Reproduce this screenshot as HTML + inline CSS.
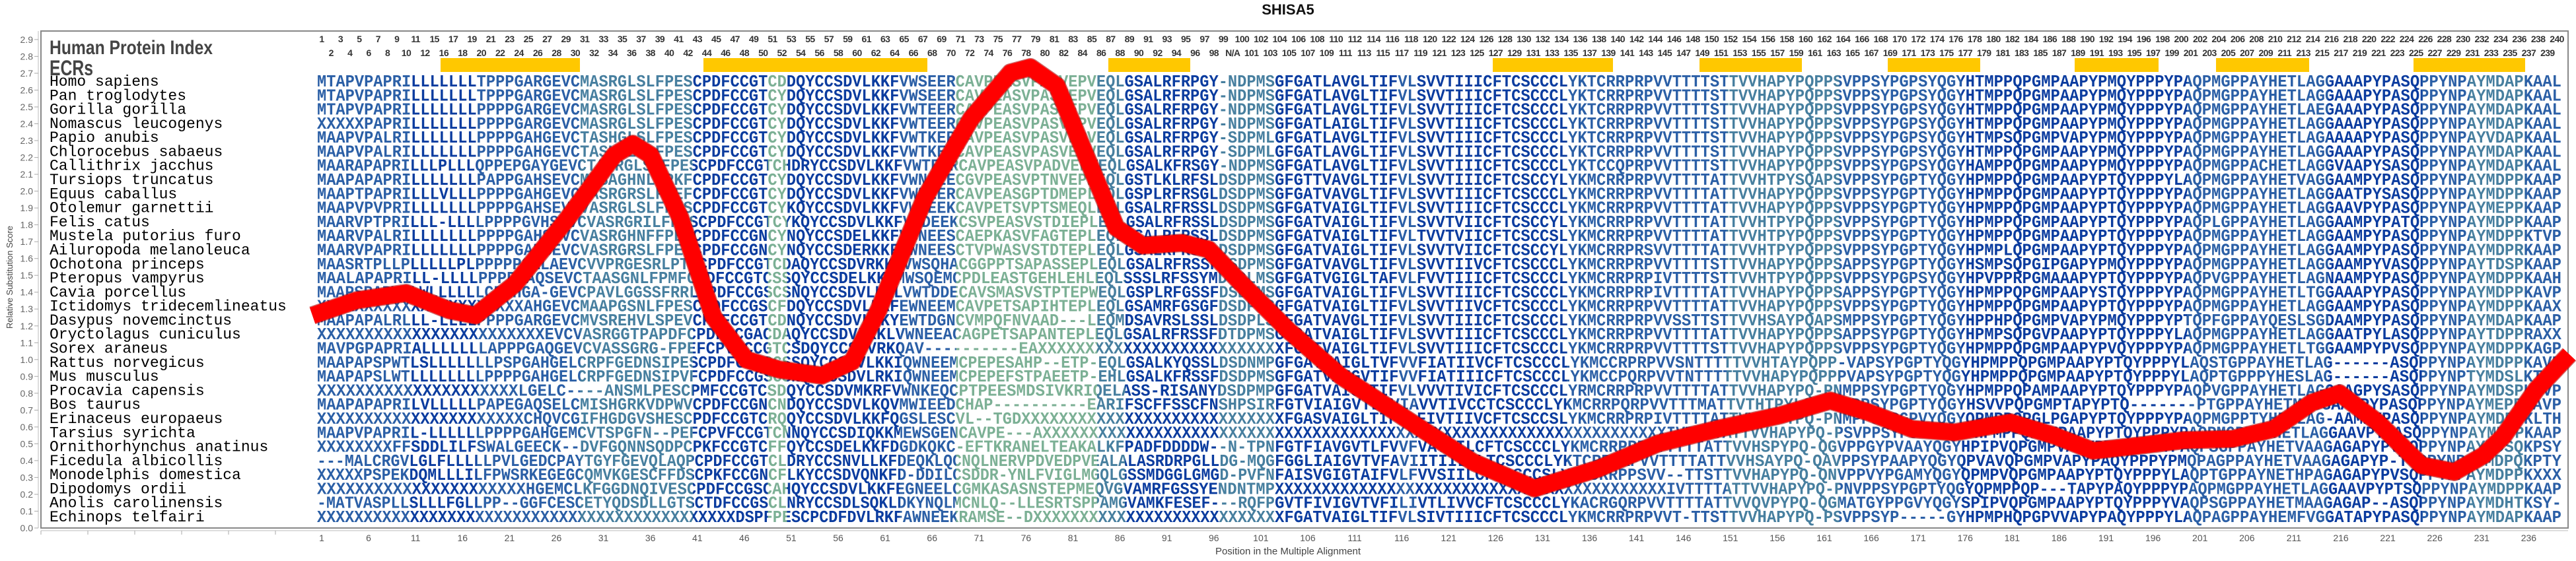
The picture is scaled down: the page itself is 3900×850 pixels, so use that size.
<!DOCTYPE html>
<html><head><meta charset="utf-8">
<style>
html,body{margin:0;padding:0;background:#fff;}
#wrap{position:relative;width:3900px;height:850px;overflow:hidden;background:#fff;}
svg{position:absolute;left:0;top:0;}
.row{position:absolute;display:flex;font-family:"Liberation Sans",sans-serif;font-weight:bold;color:#333;white-space:nowrap;}
.row i{font-style:normal;display:block;text-align:center;flex:none;}
#top i,#bot i{width:28.44px;font-size:14px;letter-spacing:-0.6px;}
#xt{font-weight:normal;color:#555;}
#xt i{width:71.1px;font-size:14px;}
</style></head><body><div id="wrap">
<svg width="3900" height="850" viewBox="0 0 3900 850" xmlns="http://www.w3.org/2000/svg">
<defs>
<linearGradient id="g" gradientUnits="userSpaceOnUse" x1="480" y1="0" x2="3880" y2="0">
<stop offset="0" stop-color="#2b5fa6"/><stop offset=".0418" stop-color="#2b5fa6"/>
<stop offset=".0418" stop-color="#0b3c9f"/><stop offset=".0711" stop-color="#0b3c9f"/>
<stop offset=".0711" stop-color="#2b5fa6"/><stop offset=".1172" stop-color="#2b5fa6"/>
<stop offset=".1172" stop-color="#477f9f"/><stop offset=".1674" stop-color="#477f9f"/>
<stop offset=".1674" stop-color="#0b3c9f"/><stop offset=".2008" stop-color="#0b3c9f"/>
<stop offset=".2008" stop-color="#7cb095"/><stop offset=".2092" stop-color="#7cb095"/>
<stop offset=".2092" stop-color="#0b3c9f"/><stop offset=".2594" stop-color="#0b3c9f"/>
<stop offset=".2594" stop-color="#2b5fa6"/><stop offset=".2845" stop-color="#2b5fa6"/>
<stop offset=".2845" stop-color="#7cb095"/><stop offset=".3473" stop-color="#7cb095"/>
<stop offset=".3473" stop-color="#477f9f"/><stop offset=".3598" stop-color="#477f9f"/>
<stop offset=".3598" stop-color="#0b3c9f"/><stop offset=".4017" stop-color="#0b3c9f"/>
<stop offset=".4017" stop-color="#477f9f"/><stop offset=".4268" stop-color="#477f9f"/>
<stop offset=".4268" stop-color="#0b3c9f"/><stop offset=".4812" stop-color="#0b3c9f"/>
<stop offset=".4812" stop-color="#2b5fa6"/><stop offset=".4895" stop-color="#2b5fa6"/>
<stop offset=".4895" stop-color="#0b3c9f"/><stop offset=".5565" stop-color="#0b3c9f"/>
<stop offset=".5565" stop-color="#2b5fa6"/><stop offset=".6276" stop-color="#2b5fa6"/>
<stop offset=".6276" stop-color="#477f9f"/><stop offset=".6778" stop-color="#477f9f"/>
<stop offset=".6778" stop-color="#2b5fa6"/><stop offset=".7322" stop-color="#2b5fa6"/>
<stop offset=".7322" stop-color="#0b3c9f"/><stop offset=".8326" stop-color="#0b3c9f"/>
<stop offset=".8326" stop-color="#2b5fa6"/><stop offset=".8954" stop-color="#2b5fa6"/>
<stop offset=".8954" stop-color="#0b3c9f"/><stop offset=".9372" stop-color="#0b3c9f"/>
<stop offset=".9372" stop-color="#2b5fa6"/><stop offset=".9582" stop-color="#2b5fa6"/>
<stop offset=".9582" stop-color="#477f9f"/><stop offset=".9833" stop-color="#477f9f"/>
<stop offset=".9833" stop-color="#2b5fa6"/><stop offset="1" stop-color="#2b5fa6"/>
</linearGradient>
</defs>
<text x="1950" y="22" text-anchor="middle" font-family="Liberation Sans,sans-serif" font-weight="bold" font-size="22" fill="#111">SHISA5</text>
<rect x="62" y="47" width="3826" height="753" fill="none" stroke="#888" stroke-width="2"/>
<line x1="58" y1="47" x2="58" y2="800" stroke="#bbb" stroke-width="1"/>
<line x1="62" y1="804" x2="3888" y2="804" stroke="#bbb" stroke-width="1"/>
<g stroke="#aaa" stroke-width="1">
<line x1="52" y1="800" x2="58" y2="800"/><line x1="52" y1="774.5" x2="58" y2="774.5"/><line x1="52" y1="749" x2="58" y2="749"/><line x1="52" y1="723.4" x2="58" y2="723.4"/><line x1="52" y1="697.9" x2="58" y2="697.9"/><line x1="52" y1="672.4" x2="58" y2="672.4"/><line x1="52" y1="646.9" x2="58" y2="646.9"/><line x1="52" y1="621.4" x2="58" y2="621.4"/><line x1="52" y1="595.8" x2="58" y2="595.8"/><line x1="52" y1="570.3" x2="58" y2="570.3"/><line x1="52" y1="544.8" x2="58" y2="544.8"/><line x1="52" y1="519.3" x2="58" y2="519.3"/><line x1="52" y1="493.8" x2="58" y2="493.8"/><line x1="52" y1="468.2" x2="58" y2="468.2"/><line x1="52" y1="442.7" x2="58" y2="442.7"/><line x1="52" y1="417.2" x2="58" y2="417.2"/><line x1="52" y1="391.7" x2="58" y2="391.7"/><line x1="52" y1="366.2" x2="58" y2="366.2"/><line x1="52" y1="340.6" x2="58" y2="340.6"/><line x1="52" y1="315.1" x2="58" y2="315.1"/><line x1="52" y1="289.6" x2="58" y2="289.6"/><line x1="52" y1="264.1" x2="58" y2="264.1"/><line x1="52" y1="238.6" x2="58" y2="238.6"/><line x1="52" y1="213" x2="58" y2="213"/><line x1="52" y1="187.5" x2="58" y2="187.5"/><line x1="52" y1="162" x2="58" y2="162"/><line x1="52" y1="136.5" x2="58" y2="136.5"/><line x1="52" y1="111" x2="58" y2="111"/><line x1="52" y1="85.4" x2="58" y2="85.4"/><line x1="52" y1="59.9" x2="58" y2="59.9"/>
</g>
<g stroke="#aaa" stroke-width="1">
<line x1="62" y1="804" x2="62" y2="810"/><line x1="133" y1="804" x2="133" y2="810"/><line x1="204" y1="804" x2="204" y2="810"/><line x1="275" y1="804" x2="275" y2="810"/><line x1="346" y1="804" x2="346" y2="810"/><line x1="417" y1="804" x2="417" y2="810"/>
</g>
<g font-family="Liberation Sans,sans-serif" font-size="14" fill="#666" text-anchor="end">
<text x="50" y="805">0.0</text><text x="50" y="779.5">0.1</text><text x="50" y="754">0.2</text><text x="50" y="728.4">0.3</text><text x="50" y="702.9">0.4</text><text x="50" y="677.4">0.5</text><text x="50" y="651.9">0.6</text><text x="50" y="626.4">0.7</text><text x="50" y="600.8">0.8</text><text x="50" y="575.3">0.9</text><text x="50" y="549.8">1.0</text><text x="50" y="524.3">1.1</text><text x="50" y="498.8">1.2</text><text x="50" y="473.2">1.3</text><text x="50" y="447.7">1.4</text><text x="50" y="422.2">1.5</text><text x="50" y="396.7">1.6</text><text x="50" y="371.2">1.7</text><text x="50" y="345.6">1.8</text><text x="50" y="320.1">1.9</text><text x="50" y="294.6">2.0</text><text x="50" y="269.1">2.1</text><text x="50" y="243.6">2.2</text><text x="50" y="218">2.3</text><text x="50" y="192.5">2.4</text><text x="50" y="167">2.5</text><text x="50" y="141.5">2.6</text><text x="50" y="116">2.7</text><text x="50" y="90.4">2.8</text><text x="50" y="64.9">2.9</text>
</g>
<text transform="translate(19,420) rotate(-90)" text-anchor="middle" font-family="Liberation Sans,sans-serif" font-size="13" fill="#444">Relative Substitution Score</text>
<text x="1950" y="840" text-anchor="middle" font-family="Liberation Sans,sans-serif" font-size="15" fill="#444">Position in the Multiple Alignment</text>
<text x="75" y="82" font-family="Liberation Sans,sans-serif" font-weight="bold" font-size="30" fill="#444" textLength="247" lengthAdjust="spacingAndGlyphs">Human Protein Index</text>
<text x="75" y="114" font-family="Liberation Sans,sans-serif" font-weight="bold" font-size="32" fill="#444" textLength="66" lengthAdjust="spacingAndGlyphs">ECRs</text>
<g fill="#FFC800">
<rect x="667" y="88" width="211" height="21"/><rect x="1065" y="88" width="339" height="21"/><rect x="1678" y="88" width="124" height="21"/><rect x="2260" y="88" width="182" height="21"/><rect x="2573" y="88" width="155" height="21"/><rect x="2858" y="88" width="140" height="21"/><rect x="3141" y="88" width="127" height="21"/><rect x="3355" y="88" width="141" height="21"/><rect x="3654" y="88" width="169" height="21"/>
</g>
<g font-family="Liberation Mono,monospace" font-size="23" fill="#000">
<text x="75" y="130">Homo sapiens</text>
<text x="75" y="151.3">Pan troglodytes</text>
<text x="75" y="172.6">Gorilla gorilla</text>
<text x="75" y="193.9">Nomascus leucogenys</text>
<text x="75" y="215.2">Papio anubis</text>
<text x="75" y="236.5">Chlorocebus sabaeus</text>
<text x="75" y="257.7">Callithrix jacchus</text>
<text x="75" y="279">Tursiops truncatus</text>
<text x="75" y="300.3">Equus caballus</text>
<text x="75" y="321.6">Otolemur garnettii</text>
<text x="75" y="342.9">Felis catus</text>
<text x="75" y="364.2">Mustela putorius furo</text>
<text x="75" y="385.5">Ailuropoda melanoleuca</text>
<text x="75" y="406.8">Ochotona princeps</text>
<text x="75" y="428.1">Pteropus vampyrus</text>
<text x="75" y="449.4">Cavia porcellus</text>
<text x="75" y="470.6">Ictidomys tridecemlineatus</text>
<text x="75" y="491.9">Dasypus novemcinctus</text>
<text x="75" y="513.2">Oryctolagus cuniculus</text>
<text x="75" y="534.5">Sorex araneus</text>
<text x="75" y="555.8">Rattus norvegicus</text>
<text x="75" y="577.1">Mus musculus</text>
<text x="75" y="598.4">Procavia capensis</text>
<text x="75" y="619.7">Bos taurus</text>
<text x="75" y="641">Erinaceus europaeus</text>
<text x="75" y="662.3">Tarsius syrichta</text>
<text x="75" y="683.5">Ornithorhynchus anatinus</text>
<text x="75" y="704.8">Ficedula albicollis</text>
<text x="75" y="726.1">Monodelphis domestica</text>
<text x="75" y="747.4">Dipodomys ordii</text>
<text x="75" y="768.7">Anolis carolinensis</text>
<text x="75" y="790">Echinops telfairi</text>
</g>
<g font-family="Liberation Mono,monospace" font-weight="bold" font-size="26" fill="url(#g)" lengthAdjust="spacingAndGlyphs">
<text x="480" y="131" textLength="1450" lengthAdjust="spacingAndGlyphs">MTAPVPAPRILLLLLLLTPPPGARGEVCMASRGLSLFPESCPDFCCGTCDDQYCCSDVLKKFVWSEERCAVPEASVPASVEPVEQLGSALRFRPGY-NDPMS</text>
<text x="1930" y="131" textLength="1948" lengthAdjust="spacingAndGlyphs">GFGATLAVGLTIFVLSVVTIIICFTCSCCCLYKTCRRPRPVVTTTTSTTVVHAPYPQPPSVPPSYPGPSYQGYHTMPPQPGMPAAPYPMQYPPPYPAQPMGPPAYHETLAGGAAAPYPASQPPYNPAYMDAPKAAL</text>
<text x="480" y="152.3" textLength="1450" lengthAdjust="spacingAndGlyphs">MTAPVPAPRILLLLLLLTPPPGARGEVCMASRGLSLFPESCPDFCCGTCYDQYCCSDVLKKFVWSEERCAVPEASVPASVEPVEQLGSALRFRPGY-NDPMS</text>
<text x="1930" y="152.3" textLength="1948" lengthAdjust="spacingAndGlyphs">GFGATLAVGLTIFVLSVVTIIICFTCSCCCLYKTCRRPRPVVTTTTSTTVVHAPYPQPPSVPPSYPGPSYQGYHTMPPQPGMPAAPYPMQYPPPYPAQPMGPPAYHETLAGGAAAPYPASQPPYNPAYMDAPKAAL</text>
<text x="480" y="173.6" textLength="1450" lengthAdjust="spacingAndGlyphs">MTAPVPAPRILLLLLLLPPPPGARGEVCMASRGLSLFPESCPDFCCGTCYDQYCCSDVLKKFVWTEERCAVPEASVPASVEPVEQLGSALRFRPGY-NDPMS</text>
<text x="1930" y="173.6" textLength="1948" lengthAdjust="spacingAndGlyphs">GFGATLAVGLTIFVLSVVTIIICFTCSCCCLYKTCRRPRPVVTTTTSTTVVHAPYPQPPSVPPSYPGPSYQGYHTMPPQPGMPAAPYPMQYPPPYPAQPMGPPAYHETLAEGAAAPYPASQPPYNPAYMDAPKAAL</text>
<text x="480" y="194.9" textLength="1450" lengthAdjust="spacingAndGlyphs">XXXXXPAPRILLLLLLLPPPPGARGEVCMASRGLSLFPESCPDFCCGTCYDQYCCSDVLKKFVWTEERCAVPEASVPASVEPVEQLGSALRFRPGY-NDPMS</text>
<text x="1930" y="194.9" textLength="1948" lengthAdjust="spacingAndGlyphs">GFGATLAIGLTIFVLSVVTIIICFTCSCCCLYKTCRRPRPVVTTTTSTTVVHAPYPQPPSVPPSYPGPSYQGYHTMPPQPGMPAAPYPMQYPPPYPAQPMGPPAYHETLAGGAAAPYPASQPPYNPAYMDAPKAAL</text>
<text x="480" y="216.2" textLength="1450" lengthAdjust="spacingAndGlyphs">MAAPVPALRILLLLLLLPPPPGAHGEVCTASHGLSLFPESCPDFCCGTCYDQYCCSDVLKKFVWTKERCAVPEASVPASVEPVEQLGSALRFRPGY-SDPML</text>
<text x="1930" y="216.2" textLength="1948" lengthAdjust="spacingAndGlyphs">GFGATLAVGLTIFVLSVVTIIICFTCSCCCLYKTCRRPRPVVTTTTSTTVVHAPYPQPPSVPPSYPGPSYQGYHTMPSQPGMPVAPYPMQYPPPYPAQPMGPPAYHETLAGAAAAPYPASQPPYNPAYVDAPKAAL</text>
<text x="480" y="237.5" textLength="1450" lengthAdjust="spacingAndGlyphs">MAAPVPALRILLLLLLLPPPPGAHGEVCTASHGLSLFPESCPDFCCGTCYDQYCCSDVLKKFVWTKERCAVPEASVPASVEPVEQLGSALRFRPGY-SDPML</text>
<text x="1930" y="237.5" textLength="1948" lengthAdjust="spacingAndGlyphs">GFGATLAVGLTIFVLSVVTIIICFTCSCCCLYKTCRRPRPVVTTTTSTTVVHAPYPQPPSVPPSYPGPSYQGYHTMPPQPGMPAAPYPMQYPPPYPAQPMGPPAYHETLAGGAAAPYPASQPPYNPAYMDAPKAAL</text>
<text x="480" y="258.7" textLength="1450" lengthAdjust="spacingAndGlyphs">MAARAPAPRILLLPLLLQPPEPGAYGEVCTASRGLSLFPESCPDFCCGTCHDRYCCSDVLKKFVWTEERCAVPEASVPADVEPVEQLGSALKFRSGY-NDPMS</text>
<text x="1930" y="258.7" textLength="1948" lengthAdjust="spacingAndGlyphs">GFGATLAVGLTIFVLSVVTIIICFTCSCCCLYKTCCQPRPVVTTTTSTTVVHAPYPQPPSVPPSYPGPSYQGYHAMPPQPGMPAAPYPMQYPPPYPAQPMGPPACHETLAGGVAAPYSASQPPYNPAYMDAPKAAL</text>
<text x="480" y="280" textLength="1450" lengthAdjust="spacingAndGlyphs">MAAPAPAPRILLLLLLLPAPPGAHSEVCMVSAGHNLFPKFCPDFCCGTCYDQYCCSDVLKKFVWNGEECGVPEASVPTNVEPPEQLGSTLKLRFSLDSDPMS</text>
<text x="1930" y="280" textLength="1948" lengthAdjust="spacingAndGlyphs">GFGTTVAVGLTIFVLSVVTIIICFTCSCCYLYKMCRRPRPVVTTTTATTVVHTPYSQAPSVPPSYPGPTYQGYHPMPPQPGMPAAPYPTQYPPPYLAQPMGPPAYHETVAGGAAMPYPASQPPYNPAYMDPPKAAP</text>
<text x="480" y="301.3" textLength="1450" lengthAdjust="spacingAndGlyphs">MAAPTPAPRILLLVLLLPPPPGAHGEVCTASRGRSLFPEFCPDFCCGTCYDQYCCSDVLKKFVWNEERCAVPEASGPTDMEPLEQLGSPLRFRSGLDSDPMS</text>
<text x="1930" y="301.3" textLength="1948" lengthAdjust="spacingAndGlyphs">GFGATVAVGLTIFVLSVVTIIICFTCSCCCLYKMCRRPRPVVTTTTATTVVHAPYPQPPSVPPSYPGPTYQGYHPMPPQPGMPAAPYPTQYPPPYPAQPMGPPAYHETLAGGAATPYSASQPPYNPAYMDPPKAAP</text>
<text x="480" y="322.6" textLength="1450" lengthAdjust="spacingAndGlyphs">MAAPVPVPRILLLLLLLPPPPGAHSEVCVASRGLSLFPESCPDFCCGTCYKQYCCSDVLKKFVWNEEKCAVPETSVPTSMEQLEQLGSALRFRSSLDSDPMS</text>
<text x="1930" y="322.6" textLength="1948" lengthAdjust="spacingAndGlyphs">GFGATVAIGLTIFVLSVVTIIICFTCSCCCLYKMCRRPRPVVTTTTATTVVHAPYPQPPSVPPSYPGPTYQGYHPMPPQPGMPAAPYPTQYPPPYPAQPMGPPAYHETLAGGAAVPYPASQPPYNPAYMEPPKAAP</text>
<text x="480" y="343.9" textLength="1450" lengthAdjust="spacingAndGlyphs">MAARVPTPRILLL-LLLLPPPPGVHSEVCVASRGRILFPESCPDFCCGTCYKQYCCSDVLKKFVWDEEKCSVPEASVSTDIEPLEQLGSALRFRSSLDSDPMS</text>
<text x="1930" y="343.9" textLength="1948" lengthAdjust="spacingAndGlyphs">GFGATVAIGLTIFVLSVVTVIICFTCSCCYLYKMCRRPRPVVTTTTATTVVHTPYPQPPSVPPSYPGPTYQGYHPMPPQPGMPAAPYPTQYPPPYPAQPLGPPAYHETLAGGAAMPYPATQPPYNPAYMDPPKAAP</text>
<text x="480" y="365.2" textLength="1450" lengthAdjust="spacingAndGlyphs">MAARVPALRILLLLLLLPPPPGAHSEVCVASRGHNFFPESCPDFCCGNCYNQYCCSDELKKFVGNEESCAEPKASVFAGTEPLEQLGSALRFRSSLDSDPMS</text>
<text x="1930" y="365.2" textLength="1948" lengthAdjust="spacingAndGlyphs">GFGATVAIGLTIFVLTVVTVIICFTCSCCSLYKMCRRPRPVVTTTTATTVVHTPYPQPPSVPPSYPGPTYQGYHPMPPQPGMPAAPYPTQYPPPYPAQPMGPPAYHETLAGGAAMPYPASQPPYNPAYMDPPKTVP</text>
<text x="480" y="386.5" textLength="1450" lengthAdjust="spacingAndGlyphs">MAARVPAPRILLLLLLLPPPPGAHSEVCVASRGRSLFPESCPDFCCGNCYNQYCCSDERKKFVWNEESCTVPWASVSTDTEPLEQLGSALRFRSSLDSDPMS</text>
<text x="1930" y="386.5" textLength="1948" lengthAdjust="spacingAndGlyphs">GFGATVAIGLTIFVLSVVTVIICFTCSCCYLYKMCRRPRSVVTTTTATTVVHTPYPQPPSVPPSYPGPTYQGYHPMPLQPGMPAAPYPTQYPPPYPAQPMGPPAYHETLAGGAAMPYPASQPPYNPAYMDPRKAAP</text>
<text x="480" y="407.8" textLength="1450" lengthAdjust="spacingAndGlyphs">MAASRTPLLPLLLLLPLPPPPPGALAEVCVVPRGESRLPTSCPDFCCGTCDAQYCCSDVRKKLVWSQHACGGPPTSAPASSEPLEQLGSALRFRSSFDSDPMS</text>
<text x="1930" y="407.8" textLength="1948" lengthAdjust="spacingAndGlyphs">GFGATVAVGLTIFVLSVVTIIVCFTCSCCCLYKMCRRPRPVVTTTTSTTVVHAPYPQPPSAPPSYPGPTYQGYHSMPSQPGIPGAPYPMQYPPPYPAQPMGPPAYHETLAGGAAMPYVASQPPYNPAYTDSPKAAP</text>
<text x="480" y="429.1" textLength="1450" lengthAdjust="spacingAndGlyphs">MAALAPAPRILL-LLLLPPPPGAQSEVCTAASGNLFPMFCPDFCCGTCSSQYCCSDELKKFMWSQEMCPDLEASTGEHLEHLEQLSSSLRFSSYMDSDLMS</text>
<text x="1930" y="429.1" textLength="1948" lengthAdjust="spacingAndGlyphs">GFGATVGIGLTAFVLFVVTIIICFTCSCCCLYKMCRRPRPIVTTTTSTTVVHTPYPQPPSVPPSYPGPSYQGYHPVPPRPGMAAAPYPTQYPPPYPAQPVGPPAYHETLAGNAAMPYPASQPPYNPAYMDPPKAAH</text>
<text x="480" y="450.4" textLength="1450" lengthAdjust="spacingAndGlyphs">MAAPSPAPWTLWLLLLLLCEAHGA-GEVCPAVLGGSSFRRLCPDFCCGSCSNQYCCSDVLKRLVWTDDECAVSMASVSTPTEPWEQLGSPLRFGSSFDSDSMS</text>
<text x="1930" y="450.4" textLength="1948" lengthAdjust="spacingAndGlyphs">GFGATVAIGLTIFVLSVVTIIICFTCSCCCLYKMCRRPRPIVTTTTATTVVHAPYPQPPSAPPSYPGPTYQGYHPMPPQPGMPAAPYSTQYPPPYPAQPMGPPAYHETLTGGAAAPYPASQPPYNPAYMDPPKAVP</text>
<text x="480" y="471.6" textLength="1450" lengthAdjust="spacingAndGlyphs">XXXXXXXXXXXXXXXXXXXXXXAHGEVCMAAPGSNLFPESCPDFCCGSCFDQYCCSDVLKKFEWNEEMCAVPETSAPIHTEPLEQLGSAMRFGSGFDSDPMS</text>
<text x="1930" y="471.6" textLength="1948" lengthAdjust="spacingAndGlyphs">GFGATVAIGLTIFVLSVVTIIVCFTCSCCCLYKMCRRPRPVVTTTTATTVVHAPYPQPPSVPPSYPGPTYQGYHPMPPQPGMPAAPYPTQYPPPYPAQPMGPPAYHETLAGGAAMPYPASQPPYNPAYMDPPKAAX</text>
<text x="480" y="492.9" textLength="1450" lengthAdjust="spacingAndGlyphs">MAAPAPALRLLL-LLLLPPPPGARGEVCMVSREHVLSPEVCPVFCCGTCDNQYCCSDVLKKYEWTDGNCVMPQFNVAAD---LEQMDSAVRSLSSLDSDPLS</text>
<text x="1930" y="492.9" textLength="1948" lengthAdjust="spacingAndGlyphs">GFGATVAVGLTIFVLSVVTIIICFTCSCCCLYKMCRRPRPVVSSTTSTTVVHSAYPQAPSMPPSYPGPTYQGYHPPHPQPGMPVAPYPMQYPPPYPTQPFGPPAYQESLSGDAAMPYPASQPPYNPAYMDAPKAAP</text>
<text x="480" y="514.2" textLength="1450" lengthAdjust="spacingAndGlyphs">XXXXXXXXXXXXXXXXXXXXXXXXEVCVASRGGTPAPDFCPDFCCGACDAQYCCSDVLKKLVWNEEACAGPETSAPANTEPLEQLGSALRFRSSFDTDPMS</text>
<text x="1930" y="514.2" textLength="1948" lengthAdjust="spacingAndGlyphs">GFGATVAIGLTIFVLSVVTIIICFTCSCCCLYKMCRRPRPVVTTTTATTVVHAPYPQPPSAPPSYPGPTYQGYHPMPSQPGVPAAPYPTQYPPPYLAQPMGPPAYHETLAGGAATPYLASQPPYNPAYTDPPRAXX</text>
<text x="480" y="535.5" textLength="1450" lengthAdjust="spacingAndGlyphs">MAVPGPAPRIALLLLLLLAPPPGAQGEVCVASSGRG-FPEFCPVFCCGTCSDQYCCSDVRKQAV----------EAXXXXXXXXXXXXXXXXXXXXXXXXX</text>
<text x="1930" y="535.5" textLength="1948" lengthAdjust="spacingAndGlyphs">XFGATVAIGLTIFVLSVVTIIICFTCSCCCLYKMCRRPRPVVTTTTSTTVVHAPYPQPPSVPPSYPGPTYQGYHPMPPQPGMPAAPYPVQYPPPYPAQPMGPPAYHETLTGGAAMPYPVSQPPYNPAYMDPPKAGP</text>
<text x="480" y="556.8" textLength="1450" lengthAdjust="spacingAndGlyphs">MAAPAPSPWTLSLLLLLLLPSPGAHGELCRPFGEDNSIPESCPDFCCGSCSSQYCCSDVLKKIQWNEEMCPEPESAHP--ETP-EQLGSALKYQSSLDSDNMP</text>
<text x="1930" y="556.8" textLength="1948" lengthAdjust="spacingAndGlyphs">GFGATVAIGLTVFVVFIATIIVCFTCSCCCLYKMCCRPRPVVSNTTTTTVVHTAYPQPP-VAPSYPGPTYQGYHPMPPQPGMPAAPYPTQYPPPYLAQSTGPPAYHETLAG------ASQPPYNPAYMDPPKAVP</text>
<text x="480" y="578.1" textLength="1450" lengthAdjust="spacingAndGlyphs">MAAPAPSLWTLLLLLLLLPPPPGAHGELCRPFGEDNSIPVFCPDFCCGSCSNQYCCSDVLRKIQWNEEMCPEPEFSTPAEETP-EHLGSALKFRSSFDSDPMS</text>
<text x="1930" y="578.1" textLength="1948" lengthAdjust="spacingAndGlyphs">GFGATVAIGVTIFVVFIATIIICFTCSCCCLYKMCCPQRPVVTNTTTTTVVHAPYPQPPPVAPSYPGPTYQGYHPMPPQPGMPAAPYPTQYPPPYLAQPTGPPPYHESLAG------ASQPPYNPTYMDSLKTIP</text>
<text x="480" y="599.4" textLength="1450" lengthAdjust="spacingAndGlyphs">XXXXXXXXXXXXXXXXXXXXXLGELC----ANSMLPESCPMFCCGTCSDQYCCSDVMKRFVWNKEQCPTPEESMDSIVKRIQELASS-RISANYDSDPMP</text>
<text x="1930" y="599.4" textLength="1948" lengthAdjust="spacingAndGlyphs">GFGATVAIGLTIFVLVVVTIVICFTCSCCCLYRMCRRPRPVVTTTTATTVVHAPYPQ-PNMPPSYPGPTYQGYHPMPPQPAMPAAPYPTQYPPPYPAQPVGPPAYHETLAGGAAGPYSASQPPYNPAYMDSPKAVP</text>
<text x="480" y="620.7" textLength="1450" lengthAdjust="spacingAndGlyphs">MAAPAPAPRILVLLLLLPAPEGAQSELCMISHGRKVDPWVCPDFCCGNCNDQYCCSDVLKQVMWIEEDCHAP----------EARIFSCFFSSCFNSHPSIR</text>
<text x="1930" y="620.7" textLength="1948" lengthAdjust="spacingAndGlyphs">FGTVIAIGVTLFVIAVVTIVCCTCSCCCLYKMCRRPQRPVVTTTMATTVTHTPYLQ----PPSYPGPTYQGYHSVVPQPGMPTAPYPTQ-------PTGPPAYHETMAGGAALPYPASQPPYNPAYMEPPKAVP</text>
<text x="480" y="642" textLength="1450" lengthAdjust="spacingAndGlyphs">XXXXXXXXXXXXXXXXXXXXXXCHQVCGIFHGDGVSHESCPDFCCGTCRQQYCCSDVLKKFQGSLESCVL--TGDXXXXXXXXXXXXXXXXXXXXXXXXXXX</text>
<text x="1930" y="642" textLength="1948" lengthAdjust="spacingAndGlyphs">XFGASVAIGLTIFVLFIVTIIVCFTCSCCSLYKMCRRPRPIVTTTTATTVVHAPYPQ-PNMPPSYPGPVYQGYQPMPPQPGLPGAPYPTQYPPPYPAQPMGPPTYHETLAG-AAMPYPASQPPYNPAYMDPPKLTH</text>
<text x="480" y="663.3" textLength="1450" lengthAdjust="spacingAndGlyphs">MAAPVPAPRIL-LLLLLLPPPPGAHGEMCVTSPGFN--PEFCPVFCCGTCNNQYCCSDIQKKMEWSGENCAVPE---AXXXXXXXXXXXXXXXXXXXXXXXXX</text>
<text x="1930" y="663.3" textLength="1948" lengthAdjust="spacingAndGlyphs">XXXXXXXXXXXXXXXXXXXXXXXXXXXXXXXXXXXXXXXXXXIVTTTTATTVVHAPYPQ-PSVPPSYPGPSYQGYHPMPPQPGMPAAPYPTQYPPPYPAQPMGPPAYHETLAGGAAVPYPASQPPYNPAYMDPPKAAP</text>
<text x="480" y="684.5" textLength="1450" lengthAdjust="spacingAndGlyphs">XXXXXXXXFFSDDLILFSWALGEECK--DVFGQNNSQDPCPKFCCGTCFFQYCCSDELKKFDGDKQKC-EFTKRANELTEAKALKFPADFDDDDW--N-TPN</text>
<text x="1930" y="684.5" textLength="1948" lengthAdjust="spacingAndGlyphs">FGTFIAVGVTLFVVFVATIILCFTCSCCCLYKMCRRPRPVVTTTTATTVVHSPYPQ-QGVPPGYPVAAYQGYHPIPVQPGMPVAPYPTQYPPPYPAQPSGPPAYHETVAAGAGAPYPVSQPPYNPAYMDSQKPSY</text>
<text x="480" y="705.8" textLength="1450" lengthAdjust="spacingAndGlyphs">---MALCRGVLGLFLLLLLPVLGEDCPAYTGYFGEVQLAQPCPDFCCGTCLDRYCCSNVLLKFDEQKLQCNQLNERVPDVEDPVEALALASRDRPGLLDG-MQG</text>
<text x="1930" y="705.8" textLength="1948" lengthAdjust="spacingAndGlyphs">FGGLIAIGVTVFAVIITIILCLTCSCCCLYKTCRRPRPVVTTTTATTVVHSAYPQ-QAVPPSYPAAPYQGYQPVAVQPGMPVAPYPAQYPPPYPMQPAGPPAYHETVAAGAGAPYP-TQPPYNPAYMDPQKPTY</text>
<text x="480" y="727.1" textLength="1450" lengthAdjust="spacingAndGlyphs">XXXXXPSPEKDQMLLLILFPWSRKEGEGCQMVKGESCFFDSCPKFCCGNCFLKYCCSDVQNKFD-DDILCSDDR-YNLFVIGLMGQLGSSMDGGLGMGD-PVFN</text>
<text x="1930" y="727.1" textLength="1948" lengthAdjust="spacingAndGlyphs">FAISVGIGTAIFVLFVVSIILCFTCSCCSLYKMCRRPPSVV--TTSTTVVHAPYPQ-QNVPPVYPGAMYQGYQPMPVQPGMPAAPYPTQYPPPYLAQPTGPPAYNETHPAGAGAPYPVSQPPYNPAYMDPPKXXX</text>
<text x="480" y="748.4" textLength="1450" lengthAdjust="spacingAndGlyphs">XXXXXXXXXXXXXXXXXXXXXXHGEMCLKFGGDNQIVESCPDFCCGSCAHQYCCSDVLKKFEGNEELCGMKASASNSTEPMEQVGVAMRFGSSYENDNTMP</text>
<text x="1930" y="748.4" textLength="1948" lengthAdjust="spacingAndGlyphs">XXXXXXXXXXXXXXXXXXXXXXXXXXXXXXXXXXXXXXXXXXIVTTTTATTVVHAPYPQ-PNVPPSYPGPTYQGYQPMPPQP---TAPYPAQYPPPYPAQPMGPPAYHETLAGGAAVPYPTSQPPYNPAYMDPPKAAP</text>
<text x="480" y="769.7" textLength="1450" lengthAdjust="spacingAndGlyphs">-MATVASPLLSLLLFGLLPP--GGFCESCETYQDSDLLGTSCTDFCCGSCLNRYCCSDLSQKLDKYNQLMCNLQ--LLESRTSPPAMGVAMKFESEF---RQFP</text>
<text x="1930" y="769.7" textLength="1948" lengthAdjust="spacingAndGlyphs">GVTFIVIGVTVFILIVTLIVVCFTCSCCCLYKACRGQRPVVTTTTATTVVQVPYPQ-QGMATGYPPGVYQGYSPIPVQPGMPAAPYPTQYPPPYVAQPSGPPAYHETMAAGAGAP--ASQPPYNPAYMDHTKSY-</text>
<text x="480" y="791" textLength="1450" lengthAdjust="spacingAndGlyphs">XXXXXXXXXXXXXXXXXXXXXXXXXXXXXXXXXXXXXXXXXXXXXDSPFPESCPCDFDVLRKFAWNEEKRAMSE--DXXXXXXXXXXXXXXXXXXXXXXXXXX</text>
<text x="1930" y="791" textLength="1948" lengthAdjust="spacingAndGlyphs">XFGATVAIGLTIFVLSIVTIIICFTCSCCCLYKMCRRPRPVVT-TTSTTVVHAPYPQ-PSVPPSYP-----GYHPMPHQPGPVVAPYPAQYPPPYLAQPAGPPAYHEMFVGGATAPYPASQPPYNPAYMDAPKAAP</text>
</g>
<polyline fill="none" stroke="#b00000" stroke-width="28" stroke-linejoin="round" stroke-linecap="butt" opacity="0.6" points="473,478 540,455 615,444 680,470 720,478 780,430 860,330 930,235 958,218 985,235 1030,330 1080,480 1130,545 1180,560 1244,569 1290,548 1330,470 1400,300 1470,180 1530,110 1560,102 1600,130 1650,250 1690,345 1730,372 1790,368 1830,378 1880,430 1950,500 2030,570 2137,640 2230,700 2323,740 2420,710 2510,672 2600,650 2696,629 2771,607 2830,625 2895,650 2960,655 3044,640 3110,660 3169,683 3240,675 3306,667 3380,665 3442,650 3500,610 3542,596 3600,640 3666,705 3716,715 3760,690 3790,661 3840,590 3890,537"/>
<polyline fill="none" stroke="#ff0000" stroke-width="25" stroke-linejoin="round" stroke-linecap="butt" points="473,478 540,455 615,444 680,470 720,478 780,430 860,330 930,235 958,218 985,235 1030,330 1080,480 1130,545 1180,560 1244,569 1290,548 1330,470 1400,300 1470,180 1530,110 1560,102 1600,130 1650,250 1690,345 1730,372 1790,368 1830,378 1880,430 1950,500 2030,570 2137,640 2230,700 2323,740 2420,710 2510,672 2600,650 2696,629 2771,607 2830,625 2895,650 2960,655 3044,640 3110,660 3169,683 3240,675 3306,667 3380,665 3442,650 3500,610 3542,596 3600,640 3666,705 3716,715 3760,690 3790,661 3840,590 3890,537"/>
</svg>
<div id="top" class="row" style="left:472.8px;top:51px;"><i>1</i><i>3</i><i>5</i><i>7</i><i>9</i><i>11</i><i>15</i><i>17</i><i>19</i><i>21</i><i>23</i><i>25</i><i>27</i><i>29</i><i>31</i><i>33</i><i>35</i><i>37</i><i>39</i><i>41</i><i>43</i><i>45</i><i>47</i><i>49</i><i>51</i><i>53</i><i>55</i><i>57</i><i>59</i><i>61</i><i>63</i><i>65</i><i>67</i><i>69</i><i>71</i><i>73</i><i>75</i><i>77</i><i>79</i><i>81</i><i>83</i><i>85</i><i>87</i><i>89</i><i>91</i><i>93</i><i>95</i><i>97</i><i>99</i><i>100</i><i>102</i><i>104</i><i>106</i><i>108</i><i>110</i><i>112</i><i>114</i><i>116</i><i>118</i><i>120</i><i>122</i><i>124</i><i>126</i><i>128</i><i>130</i><i>132</i><i>134</i><i>136</i><i>138</i><i>140</i><i>142</i><i>144</i><i>146</i><i>148</i><i>150</i><i>152</i><i>154</i><i>156</i><i>158</i><i>160</i><i>162</i><i>164</i><i>166</i><i>168</i><i>170</i><i>172</i><i>174</i><i>176</i><i>178</i><i>180</i><i>182</i><i>184</i><i>186</i><i>188</i><i>190</i><i>192</i><i>194</i><i>196</i><i>198</i><i>200</i><i>202</i><i>204</i><i>206</i><i>208</i><i>210</i><i>212</i><i>214</i><i>216</i><i>218</i><i>220</i><i>222</i><i>224</i><i>226</i><i>228</i><i>230</i><i>232</i><i>234</i><i>236</i><i>238</i><i>240</i></div>
<div id="bot" class="row" style="left:487px;top:72px;"><i>2</i><i>4</i><i>6</i><i>8</i><i>10</i><i>12</i><i>16</i><i>18</i><i>20</i><i>22</i><i>24</i><i>26</i><i>28</i><i>30</i><i>32</i><i>34</i><i>36</i><i>38</i><i>40</i><i>42</i><i>44</i><i>46</i><i>48</i><i>50</i><i>52</i><i>54</i><i>56</i><i>58</i><i>60</i><i>62</i><i>64</i><i>66</i><i>68</i><i>70</i><i>72</i><i>74</i><i>76</i><i>78</i><i>80</i><i>82</i><i>84</i><i>86</i><i>88</i><i>90</i><i>92</i><i>94</i><i>96</i><i>98</i><i>N/A</i><i>101</i><i>103</i><i>105</i><i>107</i><i>109</i><i>111</i><i>113</i><i>115</i><i>117</i><i>119</i><i>121</i><i>123</i><i>125</i><i>127</i><i>129</i><i>131</i><i>133</i><i>135</i><i>137</i><i>139</i><i>141</i><i>143</i><i>145</i><i>147</i><i>149</i><i>151</i><i>153</i><i>155</i><i>157</i><i>159</i><i>161</i><i>163</i><i>165</i><i>167</i><i>169</i><i>171</i><i>173</i><i>175</i><i>177</i><i>179</i><i>181</i><i>183</i><i>185</i><i>187</i><i>189</i><i>191</i><i>193</i><i>195</i><i>197</i><i>199</i><i>201</i><i>203</i><i>205</i><i>207</i><i>209</i><i>211</i><i>213</i><i>215</i><i>217</i><i>219</i><i>221</i><i>223</i><i>225</i><i>227</i><i>229</i><i>231</i><i>233</i><i>235</i><i>237</i><i>239</i></div>
<div id="xt" class="row" style="left:451.45px;top:807px;"><i>1</i><i>6</i><i>11</i><i>16</i><i>21</i><i>26</i><i>31</i><i>36</i><i>41</i><i>46</i><i>51</i><i>56</i><i>61</i><i>66</i><i>71</i><i>76</i><i>81</i><i>86</i><i>91</i><i>96</i><i>101</i><i>106</i><i>111</i><i>116</i><i>121</i><i>126</i><i>131</i><i>136</i><i>141</i><i>146</i><i>151</i><i>156</i><i>161</i><i>166</i><i>171</i><i>176</i><i>181</i><i>186</i><i>191</i><i>196</i><i>201</i><i>206</i><i>211</i><i>216</i><i>221</i><i>226</i><i>231</i><i>236</i></div>
</div></body></html>
